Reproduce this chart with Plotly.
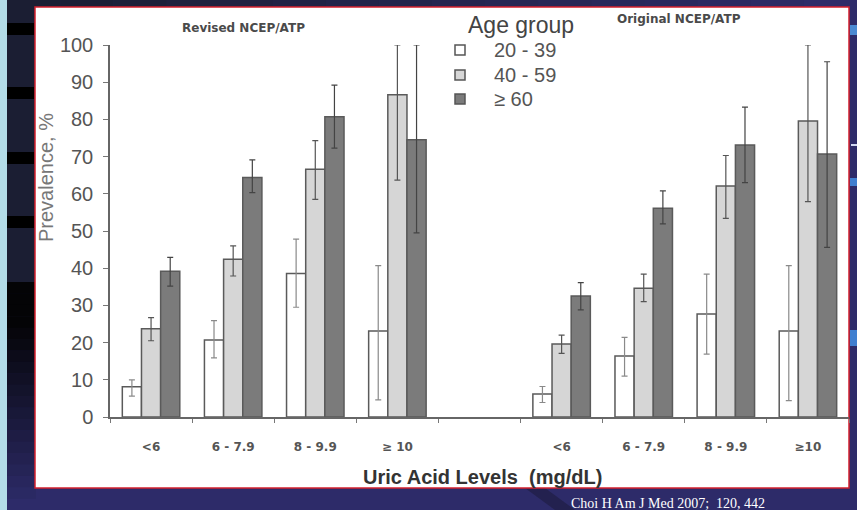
import plotly.graph_objects as go

# ---------------- data ----------------
categories = ["<6", "6 - 7.9", "8 - 9.9", "≥ 10", "<6", "6 - 7.9", "8 - 9.9", "≥10"]
positions = [0, 1, 2, 3, 5, 6, 7, 8]          # slot 4 is the gap between the panels
age_groups = ["20 - 39", "40 - 59", "≥ 60"]
legend_title = "Age group"

# prevalence (%) : Revised (4) followed by Original (4)
prev_20_39 = [8.1, 20.7, 38.6, 23.1, 6.2, 16.4, 27.7, 23.1]
prev_40_59 = [23.7, 42.4, 66.6, 86.6, 19.6, 34.6, 62.1, 79.6]
prev_60 = [39.2, 64.4, 80.7, 74.5, 32.5, 56.1, 73.1, 70.7]

# confidence interval bounds
upper_20_39 = [10.0, 25.9, 47.8, 40.7, 8.2, 21.4, 38.4, 40.7]
lower_20_39 = [5.6, 15.9, 29.5, 4.6, 3.9, 11.0, 16.9, 4.4]
upper_40_59 = [26.7, 46.0, 74.3, 100.0, 22.0, 38.4, 70.3, 100.0]
lower_40_59 = [20.5, 37.9, 58.5, 63.7, 17.1, 31.0, 53.4, 57.9]
upper_60 = [42.9, 69.1, 89.2, 100.0, 36.1, 60.8, 83.3, 95.5]
lower_60 = [35.2, 60.3, 72.3, 49.5, 28.8, 51.9, 63.0, 45.6]

y_ticks = [0, 10, 20, 30, 40, 50, 60, 70, 80, 90, 100]

# ---------------- layout geometry ----------------
W, H = 857, 510
L, R, T, B = 110, 849, 45, 417   # plot area in pixels


def px(x):
    return (x - L) / (R - L)


def py(y):
    return (B - y) / (B - T)


def rect(x0, y0, x1, y1, color, line=None, lw=0, layer="below"):
    return dict(type="rect", xref="paper", yref="paper", layer=layer,
                x0=px(x0), x1=px(x1), y0=py(y1), y1=py(y0),
                fillcolor=color, line=dict(color=line or color, width=lw))


def mix(c1, c2, t):
    a = [int(c1[i:i + 2], 16) for i in (1, 3, 5)]
    b = [int(c2[i:i + 2], 16) for i in (1, 3, 5)]
    return "#" + "".join(f"{round(a[k] + (b[k] - a[k]) * t):02x}" for k in range(3))


shapes = []
# light blue strip on the far left
shapes.append(rect(0, 0, 7, H, "#b3dce8"))
# navy upper left block
shapes.append(rect(7, 0, 36, 282, "#1b1e33"))
# lower left: black fading to purple
n = 20
for i in range(n):
    y0 = 282 + i * (H - 282) / n
    y1 = 282 + (i + 1) * (H - 282) / n
    t = max(0, (i - 3) / (n - 4))
    shapes.append(rect(7, y0, 36, y1 + 0.5, mix("#040406", "#2d2b69", t)))
# top strip: navy to purple
n = 16
for i in range(n):
    x0 = 7 + i * (W - 7) / n
    x1 = 7 + (i + 1) * (W - 7) / n
    shapes.append(rect(x0, 0, x1 + 0.5, 9, mix("#1b1e33", "#2d2b69", i / (n - 1))))
# black slide bars
for y0 in (23, 87, 152, 216):
    shapes.append(rect(7, y0, 34, y0 + 12, "#000000"))
# right side decorations
shapes.append(rect(850, 25, W, 35, "#4a8ad2"))
shapes.append(rect(851, 144, W, 146, "#d0d8f0"))
shapes.append(rect(850, 178, W, 186, "#3f7fd0"))
shapes.append(rect(850, 330, W, 346, "#3f7fd0"))
# darker diagonal at bottom
shapes.append(dict(type="path", xref="paper", yref="paper", layer="below",
                   path=f"M {px(525)},{py(488)} L {px(545)},{py(488)} L {px(575)},{py(510)} L {px(555)},{py(510)} Z",
                   fillcolor="#23214f", line=dict(width=0)))
# white figure panel with red border
shapes.append(rect(35, 7, 849, 488, "#ffffff", line="#d3202e", lw=1.5))


def errs(vals, up, lo):
    return [u - v for u, v in zip(up, vals)], [v - l for v, l in zip(vals, lo)]


series = [
    (age_groups[0], prev_20_39, upper_20_39, lower_20_39, "#ffffff", "#8a8a8a"),
    (age_groups[1], prev_40_59, upper_40_59, lower_40_59, "#d6d6d6", "#555555"),
    (age_groups[2], prev_60, upper_60, lower_60, "#7b7b7b", "#444444"),
]

fig = go.Figure()
for name, vals, up, lo, color, ecolor in series:
    plus, minus = errs(vals, up, lo)
    fig.add_trace(go.Bar(
        x=positions, y=vals, name=name, showlegend=False,
        marker=dict(color=color, line=dict(color="#5a5a5a", width=1.5)),
        error_y=dict(type="data", symmetric=False, array=plus, arrayminus=minus,
                     color=ecolor, thickness=1.2, width=3),
        cliponaxis=False,
    ))

annotations = [
    dict(text="Prevalence, %", x=px(46), y=py(178), textangle=-90, xanchor="center",
         font=dict(family="Liberation Sans, Arial", size=20, color="#777777")),
    dict(text="Revised NCEP/ATP", x=px(243), y=py(28), xanchor="center",
         font=dict(family="DejaVu Sans", size=12, color="#4a4a4a", weight="bold")),
    dict(text="Original NCEP/ATP", x=px(679), y=py(19), xanchor="center",
         font=dict(family="DejaVu Sans", size=12, color="#4a4a4a", weight="bold")),
    dict(text="Uric Acid Levels \u00a0(mg/dL)", x=px(482), y=py(477), xanchor="center",
         font=dict(family="Liberation Sans, Arial", size=20, color="#333333", weight="bold")),
    dict(text="Choi H Am J Med 2007; \u00a0120, 442", x=px(668), y=py(503), xanchor="center",
         font=dict(family="Liberation Serif, Times New Roman", size=14, color="#ffffff")),
    # legend (drawn manually to match the spacing of the original)
    dict(text=legend_title, x=px(466), y=py(25), xanchor="left",
         font=dict(family="Liberation Sans, Arial", size=23, color="#444444")),
]
legend_rows = [50, 75, 99]
for (name, _, _, _, color, _), yc in zip(series, legend_rows):
    annotations.append(dict(text=name, x=px(492), y=py(yc), xanchor="left",
                            font=dict(family="Liberation Sans, Arial", size=20, color="#555555")))
    shapes.append(rect(455, yc - 5, 465, yc + 5, color, line="#555555", lw=1.5, layer="above"))

for a in annotations:
    a.update(xref="paper", yref="paper", showarrow=False, yanchor="middle")

fig.update_layout(
    width=W, height=H,
    margin=dict(l=L, r=W - R, t=T, b=H - B),
    paper_bgcolor="#2d2b69",
    plot_bgcolor="rgba(0,0,0,0)",
    barmode="group", bargap=0.3, bargroupgap=0,
    shapes=shapes,
    annotations=annotations,
    showlegend=False,
    xaxis=dict(
        range=[-0.5, 8.5], tickmode="array", tickvals=positions, ticktext=categories,
        ticks="", showline=True, linecolor="#666666", linewidth=1.5,
        showgrid=False, zeroline=False,
        tickfont=dict(family="DejaVu Sans", size=12, color="#555555", weight="bold"),
        ticklabelstandoff=18,
        minor=dict(tickmode="array", tickvals=[p - 0.5 for p in range(10)],
                   ticks="outside", ticklen=4, tickcolor="#777777", showgrid=False),
    ),
    yaxis=dict(
        range=[0, 100], tickmode="array", tickvals=y_ticks,
        ticks="outside", ticklen=5, tickcolor="#777777",
        showline=True, linecolor="#666666", linewidth=1.5,
        showgrid=False, zeroline=False,
        tickfont=dict(family="Liberation Sans, Arial", size=20, color="#555555"),
        ticklabelstandoff=6,
    ),
)

fig.write_html("out.html")
